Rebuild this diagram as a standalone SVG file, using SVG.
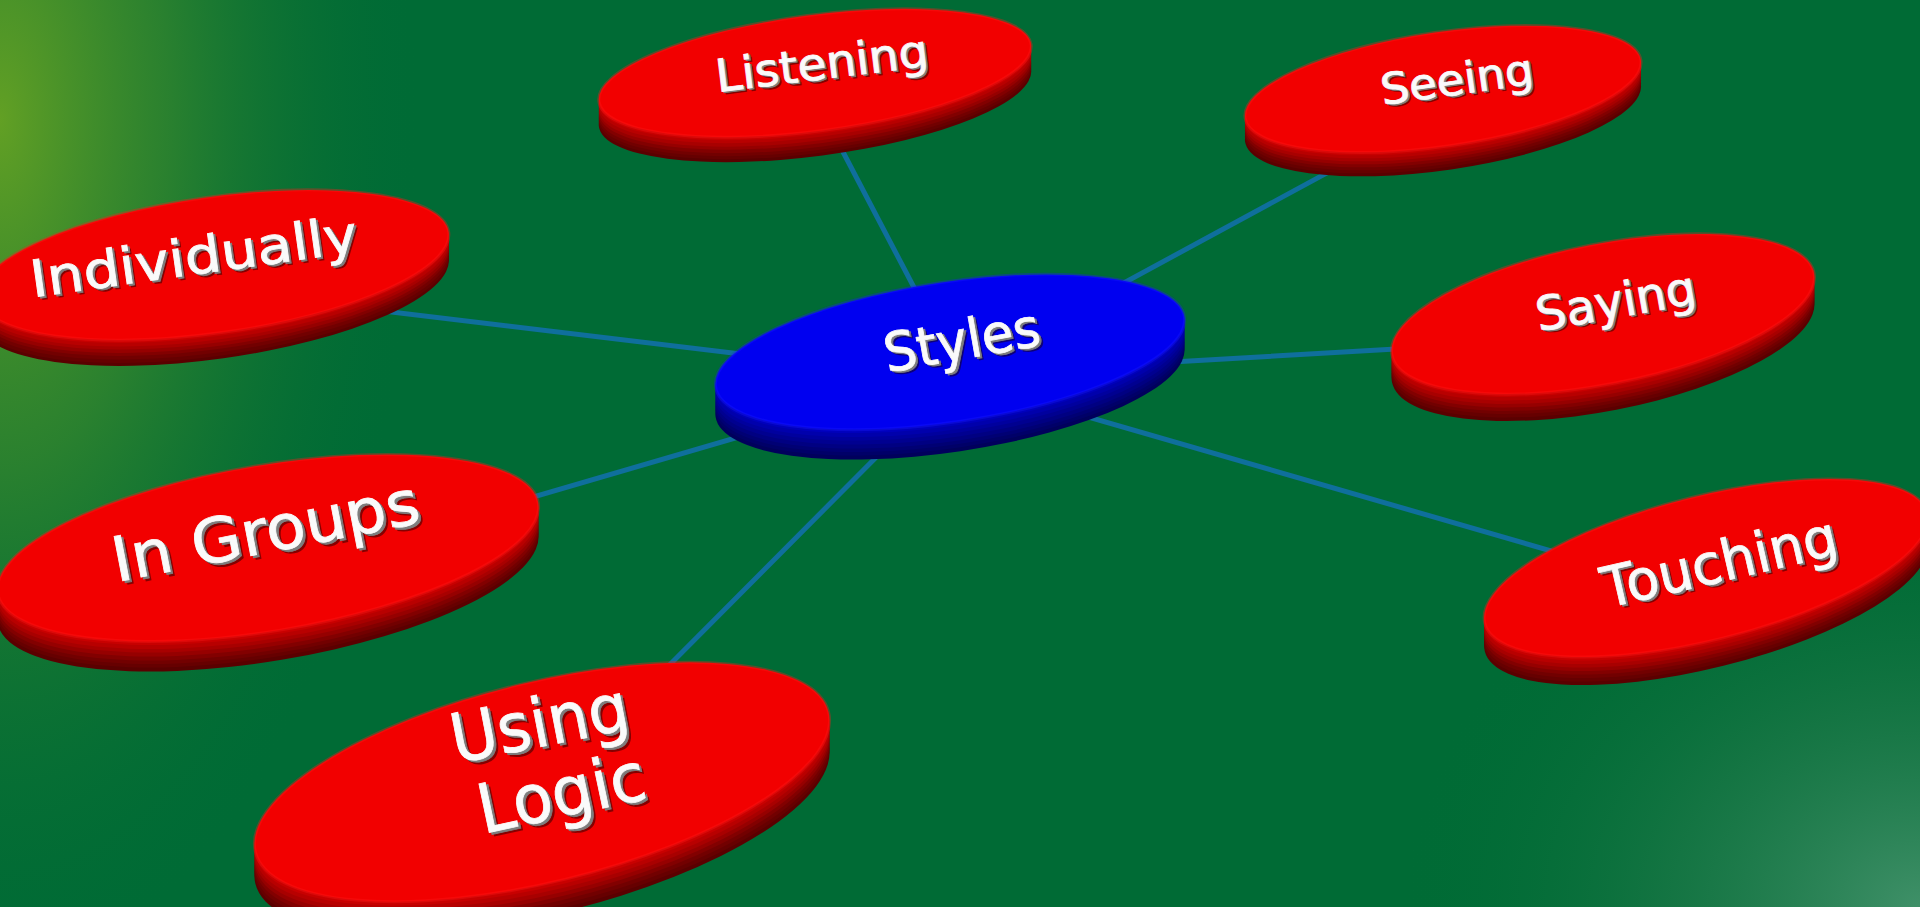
<svg xmlns="http://www.w3.org/2000/svg" xmlns:xlink="http://www.w3.org/1999/xlink" width="1920" height="907" viewBox="0 0 1920 907">
<defs>
  <radialGradient id="bgTL" cx="0" cy="0" r="1" gradientUnits="userSpaceOnUse" gradientTransform="translate(0,120) scale(420,860)">
    <stop offset="0" stop-color="#62a024"/>
    <stop offset="0.4" stop-color="#3c8a2c" stop-opacity="0.7"/>
    <stop offset="1" stop-color="#006b35" stop-opacity="0"/>
  </radialGradient>
  <radialGradient id="bgBR" cx="0" cy="0" r="1" gradientUnits="userSpaceOnUse" gradientTransform="translate(1920,907) scale(520,420)">
    <stop offset="0" stop-color="#3f9068"/>
    <stop offset="0.5" stop-color="#1f7a4a" stop-opacity="0.6"/>
    <stop offset="1" stop-color="#006b35" stop-opacity="0"/>
  </radialGradient>
  <ellipse id="e-styles" cx="950" cy="352" rx="237" ry="70" transform="rotate(-8.5 950 352)"/>
  <ellipse id="e-listening" cx="815" cy="73" rx="218" ry="58" transform="rotate(-7.5 815 73)"/>
  <ellipse id="e-seeing" cx="1443" cy="89" rx="200" ry="57" transform="rotate(-8.3 1443 89)"/>
  <ellipse id="e-individually" cx="214" cy="265" rx="237" ry="68" transform="rotate(-8 214 265)"/>
  <ellipse id="e-ingroups" cx="268" cy="548" rx="274" ry="83" transform="rotate(-9.5 268 548)"/>
  <ellipse id="e-usinglogic" cx="542" cy="782" rx="295" ry="100" transform="rotate(-13.7 542 782)"/>
  <ellipse id="e-saying" cx="1603" cy="314" rx="215" ry="70" transform="rotate(-11 1603 314)"/>
  <ellipse id="e-touching" cx="1706" cy="568" rx="228" ry="72" transform="rotate(-14 1706 568)"/>
</defs>
<style>
  .r1{fill:#5a0000}.r2{fill:#660000}.r3{fill:#720000}.r4{fill:#820000}.r5{fill:#960000}.r6{fill:#a80000}.r7{fill:#b80000}.r8{fill:#c80000}
  .rt{fill:#f20000;stroke:#ff1a1a;stroke-opacity:0.35;stroke-width:3}
  .b1{fill:#00005c}.b2{fill:#000068}.b3{fill:#000074}.b4{fill:#000082}.b5{fill:#000090}.b6{fill:#00009e}.b7{fill:#0000ac}.b8{fill:#0000bc}
  .bt{fill:#0000f0;stroke:#1a1aff;stroke-opacity:0.35;stroke-width:3}
  .conn{stroke:#0f6f9c;stroke-width:5;stroke-linecap:round;fill:none}
  .lbl{font-family:"DejaVu Sans","Verdana","Liberation Sans",sans-serif;text-anchor:middle}
  .sh{fill:#1a0000;opacity:0.5}
  .ex{fill:#7e7e7e;stroke:#7e7e7e;stroke-width:0.8}
  .fg{fill:#fafafa;stroke:#fafafa;stroke-width:0.8}
</style>
<rect width="1920" height="907" fill="#006b35"/>
<rect width="1920" height="907" fill="url(#bgTL)"/>
<rect width="1920" height="907" fill="url(#bgBR)"/>

<g id="connectors">
  <line class="conn" x1="820" y1="108" x2="930" y2="318"/>
  <line class="conn" x1="1480" y1="90" x2="1000" y2="350"/>
  <line class="conn" x1="250" y1="295" x2="900" y2="373"/>
  <line class="conn" x1="1550" y1="340" x2="1000" y2="372"/>
  <line class="conn" x1="300" y1="565" x2="900" y2="390"/>
  <line class="conn" x1="1700" y1="594" x2="950" y2="377"/>
  <line class="conn" x1="560" y1="775" x2="950" y2="383"/>
</g>

<g id="node-styles">
  <use href="#e-styles" y="30" class="b1"/><use href="#e-styles" y="26" class="b2"/><use href="#e-styles" y="22.5" class="b3"/><use href="#e-styles" y="19" class="b4"/><use href="#e-styles" y="15" class="b5"/><use href="#e-styles" y="11" class="b6"/><use href="#e-styles" y="7.5" class="b7"/><use href="#e-styles" y="3.5" class="b8"/>
  <use href="#e-styles" class="bt"/>
  <g class="lbl" font-size="54" transform="translate(962,342) rotate(-10)">
    <text class="sh" x="3.5" y="21" textLength="158" lengthAdjust="spacingAndGlyphs">Styles</text>
    <text class="ex" x="2" y="19" textLength="158" lengthAdjust="spacingAndGlyphs">Styles</text>
    <text class="fg" x="0" y="17" textLength="158" lengthAdjust="spacingAndGlyphs">Styles</text>
  </g>
</g>

<g id="node-listening">
  <use href="#e-listening" y="25" class="r1"/><use href="#e-listening" y="22" class="r2"/><use href="#e-listening" y="19" class="r3"/><use href="#e-listening" y="16" class="r4"/><use href="#e-listening" y="12.5" class="r5"/><use href="#e-listening" y="9.5" class="r6"/><use href="#e-listening" y="6" class="r7"/><use href="#e-listening" y="3" class="r8"/>
  <use href="#e-listening" class="rt"/>
  <g class="lbl" font-size="45" transform="translate(822,65) rotate(-7)">
    <text class="sh" x="3" y="17.5" textLength="214" lengthAdjust="spacingAndGlyphs">Listening</text>
    <text class="ex" x="1.8" y="15.5" textLength="214" lengthAdjust="spacingAndGlyphs">Listening</text>
    <text class="fg" x="0" y="14" textLength="214" lengthAdjust="spacingAndGlyphs">Listening</text>
  </g>
</g>

<g id="node-seeing">
  <use href="#e-seeing" y="24" class="r1"/><use href="#e-seeing" y="21" class="r2"/><use href="#e-seeing" y="18" class="r3"/><use href="#e-seeing" y="15" class="r4"/><use href="#e-seeing" y="12" class="r5"/><use href="#e-seeing" y="9" class="r6"/><use href="#e-seeing" y="6" class="r7"/><use href="#e-seeing" y="3" class="r8"/>
  <use href="#e-seeing" class="rt"/>
  <g class="lbl" font-size="43" transform="translate(1457,81) rotate(-8)">
    <text class="sh" x="3" y="16.5" textLength="154" lengthAdjust="spacingAndGlyphs">Seeing</text>
    <text class="ex" x="1.8" y="15" textLength="154" lengthAdjust="spacingAndGlyphs">Seeing</text>
    <text class="fg" x="0" y="13.5" textLength="154" lengthAdjust="spacingAndGlyphs">Seeing</text>
  </g>
</g>

<g id="node-individually">
  <use href="#e-individually" y="26" class="r1"/><use href="#e-individually" y="23" class="r2"/><use href="#e-individually" y="19.5" class="r3"/><use href="#e-individually" y="16" class="r4"/><use href="#e-individually" y="13" class="r5"/><use href="#e-individually" y="9.5" class="r6"/><use href="#e-individually" y="6.5" class="r7"/><use href="#e-individually" y="3" class="r8"/>
  <use href="#e-individually" class="rt"/>
  <g class="lbl" font-size="51" transform="translate(194,259) rotate(-8)">
    <text class="sh" x="3.5" y="19.5" textLength="330" lengthAdjust="spacingAndGlyphs">Individually</text>
    <text class="ex" x="2" y="17.5" textLength="330" lengthAdjust="spacingAndGlyphs">Individually</text>
    <text class="fg" x="0" y="15.5" textLength="330" lengthAdjust="spacingAndGlyphs">Individually</text>
  </g>
</g>

<g id="node-ingroups">
  <use href="#e-ingroups" y="30" class="r1"/><use href="#e-ingroups" y="26" class="r2"/><use href="#e-ingroups" y="22.5" class="r3"/><use href="#e-ingroups" y="19" class="r4"/><use href="#e-ingroups" y="15" class="r5"/><use href="#e-ingroups" y="11" class="r6"/><use href="#e-ingroups" y="7.5" class="r7"/><use href="#e-ingroups" y="3.5" class="r8"/>
  <use href="#e-ingroups" class="rt"/>
  <g class="lbl" font-size="62" transform="translate(266,534) rotate(-11)">
    <text class="sh" x="4" y="23.5" textLength="312" lengthAdjust="spacingAndGlyphs">In Groups</text>
    <text class="ex" x="2.2" y="21" textLength="312" lengthAdjust="spacingAndGlyphs">In Groups</text>
    <text class="fg" x="0" y="18.5" textLength="312" lengthAdjust="spacingAndGlyphs">In Groups</text>
  </g>
</g>

<g id="node-usinglogic">
  <use href="#e-usinglogic" y="32" class="r1"/><use href="#e-usinglogic" y="28" class="r2"/><use href="#e-usinglogic" y="24" class="r3"/><use href="#e-usinglogic" y="20" class="r4"/><use href="#e-usinglogic" y="16" class="r5"/><use href="#e-usinglogic" y="12" class="r6"/><use href="#e-usinglogic" y="8" class="r7"/><use href="#e-usinglogic" y="4" class="r8"/>
  <use href="#e-usinglogic" class="rt"/>
  <g class="lbl" font-size="68" transform="translate(540,726) rotate(-11)">
    <text class="sh" x="4" y="25.5" textLength="180" lengthAdjust="spacingAndGlyphs">Using</text>
    <text class="ex" x="2.2" y="23" textLength="180" lengthAdjust="spacingAndGlyphs">Using</text>
    <text class="fg" x="0" y="20.5" textLength="180" lengthAdjust="spacingAndGlyphs">Using</text>
  </g>
  <g class="lbl" font-size="68" transform="translate(562,796) rotate(-12)">
    <text class="sh" x="4" y="25.5" textLength="170" lengthAdjust="spacingAndGlyphs">Logic</text>
    <text class="ex" x="2.2" y="23" textLength="170" lengthAdjust="spacingAndGlyphs">Logic</text>
    <text class="fg" x="0" y="20.5" textLength="170" lengthAdjust="spacingAndGlyphs">Logic</text>
  </g>
</g>

<g id="node-saying">
  <use href="#e-saying" y="27" class="r1"/><use href="#e-saying" y="23.5" class="r2"/><use href="#e-saying" y="20" class="r3"/><use href="#e-saying" y="17" class="r4"/><use href="#e-saying" y="13.5" class="r5"/><use href="#e-saying" y="10" class="r6"/><use href="#e-saying" y="6.5" class="r7"/><use href="#e-saying" y="3" class="r8"/>
  <use href="#e-saying" class="rt"/>
  <g class="lbl" font-size="47" transform="translate(1616,303) rotate(-10)">
    <text class="sh" x="3" y="17.5" textLength="162" lengthAdjust="spacingAndGlyphs">Saying</text>
    <text class="ex" x="1.8" y="16" textLength="162" lengthAdjust="spacingAndGlyphs">Saying</text>
    <text class="fg" x="0" y="14.5" textLength="162" lengthAdjust="spacingAndGlyphs">Saying</text>
  </g>
</g>

<g id="node-touching">
  <use href="#e-touching" y="28" class="r1"/><use href="#e-touching" y="24.5" class="r2"/><use href="#e-touching" y="21" class="r3"/><use href="#e-touching" y="17.5" class="r4"/><use href="#e-touching" y="14" class="r5"/><use href="#e-touching" y="10.5" class="r6"/><use href="#e-touching" y="7" class="r7"/><use href="#e-touching" y="3.5" class="r8"/>
  <use href="#e-touching" class="rt"/>
  <g class="lbl" font-size="56" transform="translate(1720,565) rotate(-13)">
    <text class="sh" x="3.5" y="20.5" textLength="240" lengthAdjust="spacingAndGlyphs">Touching</text>
    <text class="ex" x="2" y="18.5" textLength="240" lengthAdjust="spacingAndGlyphs">Touching</text>
    <text class="fg" x="0" y="16.5" textLength="240" lengthAdjust="spacingAndGlyphs">Touching</text>
  </g>
</g>
</svg>
